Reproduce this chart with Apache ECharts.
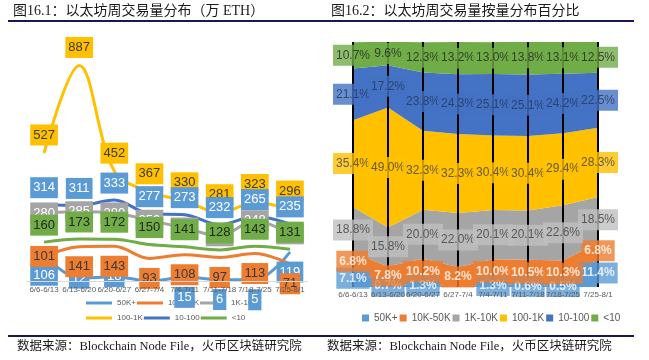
<!DOCTYPE html>
<html><head><meta charset="utf-8">
<script src="https://cdn.jsdelivr.net/npm/echarts@6/dist/echarts.min.js"></script>
<style>html,body{margin:0;padding:0;background:#fff}#c{width:649px;height:360px}</style>
</head><body><div id="c"></div>
<script>
const categories = ['6/6-6/13','6/13-6/20','6/20-6/27','6/27-7/4','7/4-7/11','7/11-7/18','7/18-7/25','7/25-8/1'];
const seriesNames = ['50K+','10K-50K','1K-10K','100-1K','10-100','<10'];
// weekly volume (万 ETH)
const vol50k  = [106, 12, 18, 0, 15, 6, 5, 119];
const vol10k  = [101, 141, 143, 93, 108, 97, 113, 71];
const vol1k   = [280, 285, 280, 250, 218, 186, 248, 194];
const vol100  = [527, 887, 452, 367, 330, 281, 323, 296];
const vol10   = [314, 311, 333, 277, 273, 232, 265, 235];
const volLt10 = [160, 173, 172, 150, 141, 128, 143, 131];
// share (%)
const pct50k  = [7.1, 0.7, 1.3, 0.0, 1.3, 0.6, 0.5, 11.4];
const pct10k  = [6.8, 7.8, 10.2, 8.2, 10.0, 10.5, 10.3, 6.8];
const pct1k   = [18.8, 15.8, 20.0, 22.0, 20.1, 20.1, 22.6, 18.5];
const pct100  = [35.4, 49.0, 32.3, 32.3, 30.4, 30.4, 29.4, 28.3];
const pct10   = [21.1, 17.2, 23.8, 24.3, 25.1, 25.1, 24.2, 22.5];
const pctLt10 = [10.7, 9.6, 12.3, 13.2, 13.0, 13.8, 13.1, 12.5];

const colors = ['#5B9BD5','#ED7D31','#A5A5A5','#FFC000','#4472C4','#70AD47'];
const volData = [vol50k, vol10k, vol1k, vol100, vol10, volLt10];
const pctData = [pct50k, pct10k, pct1k, pct100, pct10, pctLt10];

// label styling per series (insideAt: points whose label sits on the point, as in the original)
const leftLabel = [
  {pos:'bottom', dist:9, bg:'#5B9BD5', fg:'#ffffff', insideAt:[1,2]},
  {pos:'bottom', dist:9, bg:'#ED7D31', fg:'#3b3b3b', insideAt:[0]},
  {pos:'inside', dist:0, bg:'#A5A5A5', fg:'#ffffff', insideAt:[]},
  {pos:'top', dist:7, bg:'#FFC000', fg:'#3b3b3b', insideAt:[]},
  {pos:'top', dist:6, bg:'#5B9BD5', fg:'#ffffff', insideAt:[]},
  {pos:'top', dist:6, bg:'#70AD47', fg:'#262626', insideAt:[]}
];
const rightLabel = [
  {bg:'#5B9BD5', fg:'#ffffff', w:'bold'},
  {bg:'#ED7D31', fg:'#ffffff', w:'bold'},
  {bg:'#BFBFBF', fg:'#404040', w:'normal'},
  {bg:'#FFC000', fg:'#404040', w:'normal'},
  {bg:'#4472C4', fg:'#25375a', w:'normal'},
  {bg:'#70AD47', fg:'#262626', w:'normal'}
];

const series = [];
seriesNames.forEach((name, k) => {
  const L = leftLabel[k];
  series.push({
    name, type:'line', xAxisIndex:0, yAxisIndex:0, smooth:0.35, z:5,
    symbol:'circle', symbolSize:1, showSymbol:true,
    itemStyle:{color:colors[k]}, lineStyle:{color:colors[k], width:3},
    data: volData[k].map((v, i) => v === 0 ? {value:v, label:{show:false}}
      : (L.insideAt.includes(i) ? {value:v, label:{position:'inside'}} : v)),
    label:{show:true, position:L.pos, distance:L.dist, backgroundColor:L.bg, color:L.fg,
      fontSize:13, fontFamily:'Liberation Sans, Arial, sans-serif', padding:[3,3], lineHeight:15}
  });
});
// right: 100% stacked area
seriesNames.forEach((name, k) => {
  series.push({
    name, type:'line', xAxisIndex:1, yAxisIndex:1, stack:'pct', z:2,
    symbol:'none', lineStyle:{width:0}, itemStyle:{color:colors[k]},
    areaStyle:{color:colors[k], opacity:1}, data: pctData[k]
  });
});
// right: band labels at band centres
seriesNames.forEach((name, k) => {
  const R = rightLabel[k];
  const mids = categories.map((c, i) => {
    let below = 0; for (let j = 0; j < k; j++) below += pctData[j][i];
    return below + pctData[k][i] / 2;
  });
  series.push({
    name:'lbl_' + name, type:'scatter', xAxisIndex:1, yAxisIndex:1, z:5,
    symbolSize:1, itemStyle:{color:'rgba(0,0,0,0)'}, silent:true,
    data: mids.map((m, i) => pctData[k][i] === 0 ? {value:m, label:{show:false}} : m),
    label:{show:true, position:'inside', backgroundColor:R.bg, color:R.fg, fontWeight:R.w,
      fontSize:12, fontFamily:'Liberation Sans, Arial, sans-serif', padding:[4,3], lineHeight:13,
      formatter: p => pctData[k][p.dataIndex].toFixed(1) + '%'}
  });
});

const serif = "'Liberation Serif', 'Times New Roman', 'Noto Sans CJK SC', serif";
const navy = '#17175c';
const option = {
  animation:false,
  color: colors,
  grid:[
    {left:26.5, right:341.5, top:38, bottom:79},
    {left:353, right:51, top:42, bottom:73}
  ],
  xAxis:[
    {type:'category', gridIndex:0, position:'bottom', data:categories, boundaryGap:true, z:6,
     axisLine:{lineStyle:{color:'#D9D9D9', width:1}}, axisTick:{show:false},
     axisLabel:{interval:0, fontSize:8, color:'#595959', margin:5}},
    {type:'category', gridIndex:1, position:'bottom', data:categories, boundaryGap:false, z:3,
     axisLine:{show:false}, axisTick:{show:false}, axisLabel:{show:false},
     splitLine:{show:true, interval:0, lineStyle:{color:'#000000', width:2}}},
    {type:'category', gridIndex:1, position:'bottom', offset:0, data:categories, boundaryGap:false, z:10,
     axisLine:{show:false}, axisTick:{show:false},
     axisLabel:{interval:0, fontSize:8, color:'#595959', margin:4}}
  ],
  yAxis:[
    {type:'value', gridIndex:0, min:0, max:1000, show:false},
    {type:'value', gridIndex:1, min:0, max:100, show:false}
  ],
  legend:[
    {data:seriesNames.slice(0,3), left:81, top:294, icon:'rect', itemWidth:26, itemHeight:3, itemGap:1,
     textStyle:{fontSize:8, color:'#595959', width:26}, selectedMode:false},
    {data:seriesNames.slice(3), left:81, top:309, icon:'rect', itemWidth:26, itemHeight:3, itemGap:1,
     textStyle:{fontSize:8, color:'#595959', width:26}, selectedMode:false},
    {data:seriesNames, left:357, top:308, icon:'rect', itemWidth:7, itemHeight:7, itemGap:2,
     textStyle:{fontSize:10, color:'#595959'}, selectedMode:false}
  ],
  graphic:[
    {type:'text', left:13, top:4, style:{text:'图16.1：以太坊周交易量分布（万 ETH）', font:'14px ' + serif, fill:'#1a1a1a'}},
    {type:'text', left:331, top:4, style:{text:'图16.2：以太坊周交易量按量分布百分比', font:'14px ' + serif, fill:'#1a1a1a'}},
    {type:'rect', shape:{x:8, y:20, width:317, height:2}, style:{fill:navy}},
    {type:'rect', shape:{x:325, y:20, width:309, height:2}, style:{fill:navy}},
    {type:'rect', shape:{x:8, y:335, width:317, height:2}, style:{fill:navy}},
    {type:'rect', shape:{x:325, y:335, width:309, height:2}, style:{fill:navy}},
    {type:'text', left:17, top:340, style:{text:'数据来源：Blockchain Node File，火币区块链研究院', font:'12.5px ' + serif, fill:'#1a1a1a'}},
    {type:'text', left:327, top:340, style:{text:'数据来源：Blockchain Node File，火币区块链研究院', font:'12.5px ' + serif, fill:'#1a1a1a'}}
  ],
  series
};
const chart = echarts.init(document.getElementById('c'), null, {renderer:'canvas'});
chart.setOption(option);
</script></body></html>
